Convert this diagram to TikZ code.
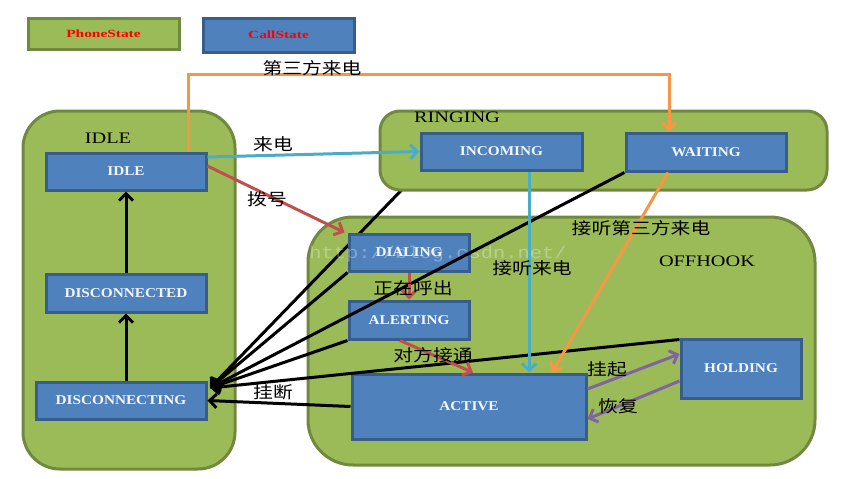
\documentclass[tikz,border=0pt]{standalone}
\usepackage{fontspec}
\usetikzlibrary{arrows.meta,calc}
\newfontfamily\cjk[FakeStretch=1.2]{Noto Sans CJK SC}
\newfontfamily\boxfont[FakeStretch=1.13]{Liberation Serif}
\newfontfamily\lblfont[FakeStretch=1.27]{Liberation Serif}
\newfontfamily\legfont[FakeStretch=1.4]{Liberation Serif}
\newfontfamily\wmfont[FakeStretch=1.2]{Liberation Mono}
\definecolor{gfill}{HTML}{9BBB59}
\definecolor{gline}{HTML}{71893F}
\definecolor{bfill}{HTML}{4F81BD}
\definecolor{bline}{HTML}{385D8A}
\definecolor{orng}{HTML}{F79646}
\definecolor{cyn}{HTML}{4BACC6}
\definecolor{rd}{HTML}{C0504D}
\definecolor{prp}{HTML}{8064A2}
\definecolor{btext}{HTML}{F2F5FC}
\pgfdeclarelayer{bg}
\pgfdeclarelayer{lower}
\pgfdeclarelayer{ring}
\pgfsetlayers{bg,lower,ring,main}
\tikzset{
  container/.style={fill=gfill, draw=gline, line width=3pt},
  statebox/.style={fill=bfill, draw=bline, line width=3pt, inner sep=0pt,
    text=btext, font=\boxfont\bfseries\fontsize{13.5}{14}\selectfont},
  legbox/.style={line width=3pt, inner sep=0pt, text=red,
    font=\legfont\bfseries\fontsize{11}{12}\selectfont},
  grouplabel/.style={text=black, font=\lblfont\fontsize{16}{16}\selectfont, inner sep=0pt},
  cn/.style={text=black, font=\cjk\fontsize{16.5}{17}\selectfont, inner sep=0pt},
  conn/.style={line width=3pt, -{Straight Barb[length=7pt,width=14pt]}},
}
\begin{document}
\begin{tikzpicture}[x=1pt,y=-1pt]
\useasboundingbox (0,0) rectangle (868,479);
\begin{pgfonlayer}{bg}
\fill[white] (0,0) rectangle (868,479);
\draw[container, rounded corners=37pt] (23,111) rectangle (235,469);
\draw[container, rounded corners=45pt] (308,217) rectangle (815,465);
\end{pgfonlayer}
% legend
\node[legbox, fill=gfill, draw=gline, minimum width=151pt, minimum height=31pt] (legP) at (103.5,33.5) {PhoneState};
\node[legbox, fill=bfill, draw=bline, minimum width=151pt, minimum height=34pt] (legC) at (278.5,35) {CallState};
% state boxes
\node[statebox, minimum width=160pt, minimum height=37pt] (IDLE) at (126,171.5) {IDLE};
\node[statebox, minimum width=160pt, minimum height=38pt] (DISCONNECTED) at (126,293) {DISCONNECTED};
\node[statebox, minimum width=170pt, minimum height=37pt] (DISCONNECTING) at (121,400.5) {DISCONNECTING};
\node[statebox, minimum width=161pt, minimum height=37pt] (INCOMING) at (501.5,151.5) {INCOMING};
\node[statebox, minimum width=160pt, minimum height=38pt] (WAITING) at (706,152) {WAITING};
\node[statebox, minimum width=120pt, minimum height=37pt] (DIALING) at (409,252.5) {DIALING};
\node[statebox, minimum width=120pt, minimum height=38pt] (ALERTING) at (409,320) {ALERTING};
\node[statebox, minimum width=234pt, minimum height=65pt] (ACTIVE) at (469,406.5) {ACTIVE};
\node[statebox, minimum width=120pt, minimum height=59pt] (HOLDING) at (741,368.5) {HOLDING};
\coordinate (dtip) at (210,388);
% the line from INCOMING lies under the RINGING group and the DIALING box
\begin{pgfonlayer}{lower}
\draw[conn, black] (INCOMING.south west) -- (dtip);
\end{pgfonlayer}
\begin{pgfonlayer}{ring}
\draw[container, rounded corners=20pt] (380,111) rectangle (827,190);
\end{pgfonlayer}
% group labels
\node[grouplabel] (lIDLE) at (108,138) {IDLE};
\node[grouplabel] (lRING) at (457,117) {RINGING};
\node[grouplabel] (lOFF) at (707,261) {OFFHOOK};
% watermark
\node[text=white, opacity=0.3, font=\wmfont\fontsize{17}{17}\selectfont, inner sep=0pt] (wm) at (438,254) {http://blog.csdn.net/};
% black transitions
\draw[conn, black] (DISCONNECTING.north -| DISCONNECTED.south) -- (DISCONNECTED.south);
\draw[conn, black] (DISCONNECTED.north) -- (IDLE.south);
\draw[conn, black] (DIALING.south west) -- (dtip);
\draw[conn, black] (WAITING.south west) -- (dtip);
\draw[conn, black] (ALERTING.south west) -- (dtip);
\draw[conn, black] ([yshift=-2pt]HOLDING.north west) -- (dtip);
\draw[conn, black] (ACTIVE.west) -- (DISCONNECTING.east);
% orange
\coordinate (o1) at (188,74);
\coordinate (o2) at (669,74);
\draw[conn, orng] (IDLE.north -| o1) |- (o2) -- (WAITING.north -| o2);
\draw[conn, orng] ([xshift=-38pt]WAITING.south) -- ([xshift=83pt]ACTIVE.north);
% cyan
\draw[conn, cyn] ([yshift=14.5pt]IDLE.east) -- (INCOMING.west);
\draw[conn, cyn] ([xshift=27.5pt]INCOMING.south) -- ([xshift=27.5pt]INCOMING.south |- ACTIVE.north);
% red
\draw[conn, rd] ([yshift=5.5pt]IDLE.east) -- ([xshift=-3pt]DIALING.north west);
\draw[conn, rd] (DIALING.south) -- (ALERTING.north);
\draw[conn, rd] ([xshift=-9pt]ALERTING.south) -- ([xshift=4pt]ACTIVE.north);
% purple
\draw[conn, prp] ([yshift=17.5pt]ACTIVE.east) -- ([yshift=14.5pt]HOLDING.west);
\draw[conn, prp] ([yshift=-12.5pt]HOLDING.west) -- ([yshift=-12.5pt]ACTIVE.east);
% chinese labels
\node[cn] (t1) at (312,68) {第三方来电};
\node[cn] (t2) at (273,144) {来电};
\node[cn] (t3) at (267,199) {拨号};
\node[cn] (t4) at (641,228) {接听第三方来电};
\node[cn] (t5) at (532,268) {接听来电};
\node[cn] (t6) at (413,288) {正在呼出};
\node[cn] (t7) at (433,355) {对方接通};
\node[cn] (t8) at (607,369) {挂起};
\node[cn] (t9) at (618,406) {恢复};
\node[cn] (t10) at (273,392) {挂断};
\end{tikzpicture}
\end{document}
